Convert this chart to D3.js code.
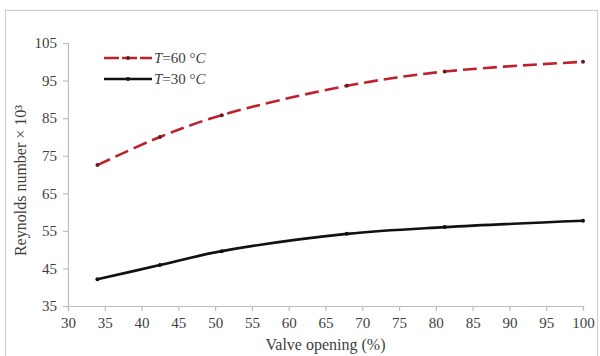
<!DOCTYPE html>
<html>
<head>
<meta charset="utf-8">
<script src="https://cdn.jsdelivr.net/npm/d3@7"></script>
<style>
  html, body { margin: 0; padding: 0; background: #fff; }
  svg { display: block; }
  text { font-family: "Liberation Serif", "DejaVu Serif", serif; fill: #404040; }
</style>
</head>
<body>
<svg id="chart" width="600" height="356"></svg>
<script>
// Valve opening (%) at each measured point
const valveOpening = [34, 42.5, 50.9, 67.9, 81.2, 100];
// Reynolds number (×10³) for each water temperature
const re60 = [72.5, 80, 85.8, 93.6, 97.4, 100];
const re30 = [42.1, 45.9, 49.6, 54.2, 56, 57.7];
const xTicks = [30, 35, 40, 45, 50, 55, 60, 65, 70, 75, 80, 85, 90, 95, 100];
const yTicks = [35, 45, 55, 65, 75, 85, 95, 105];

const svg = d3.select("#chart");
const plot = { left: 68, right: 583, top: 43, bottom: 306 };

// outer chart frame
svg.append("rect")
  .attr("x", 5.5).attr("y", 10.5).attr("width", 592).attr("height", 350)
  .attr("fill", "#fff").attr("stroke", "#d0d0d0").attr("stroke-width", 1.2);

const x = d3.scaleLinear().domain([30, 100]).range([plot.left, plot.right]);
const y = d3.scaleLinear().domain([35, 105]).range([plot.bottom, plot.top]);

// x axis
const xAxis = svg.append("g")
  .attr("transform", `translate(0,${plot.bottom})`)
  .call(d3.axisBottom(x).tickValues(xTicks).tickSize(5).tickPadding(6));
// y axis
const yAxis = svg.append("g")
  .attr("transform", `translate(${plot.left},0)`)
  .call(d3.axisLeft(y).tickValues(yTicks).tickSize(5).tickPadding(6));

[xAxis, yAxis].forEach(g => {
  g.select(".domain").attr("stroke", "#bdbdbd").attr("stroke-width", 1.2);
  g.selectAll(".tick line").attr("stroke", "#bdbdbd").attr("stroke-width", 1.2);
  g.selectAll(".tick text")
    .attr("font-family", "Liberation Serif, DejaVu Serif, serif")
    .attr("font-size", 15).attr("fill", "#3a3a3a");
});

// axis titles
svg.append("text")
  .attr("x", (plot.left + plot.right) / 2).attr("y", 350)
  .attr("text-anchor", "middle").attr("font-size", 16).attr("fill", "#333")
  .text("Valve opening (%)");

svg.append("text")
  .attr("transform", `translate(26,${(plot.top + plot.bottom) / 2 + 6}) rotate(-90)`)
  .attr("text-anchor", "middle").attr("font-size", 16).attr("fill", "#333")
  .text("Reynolds number × 10³");

const line = d3.line()
  .x(d => x(d[0])).y(d => y(d[1]))
  .curve(d3.curveCatmullRom.alpha(0.5));

const series = [
  { name: "60", values: re60, color: "#c0202c", dash: "14,6", marker: "#6a1a20" },
  { name: "30", values: re30, color: "#111111", dash: null, marker: "#111111" }
];

series.forEach(s => {
  const pts = valveOpening.map((v, i) => [v, s.values[i]]);
  svg.append("path")
    .datum(pts)
    .attr("d", line)
    .attr("fill", "none")
    .attr("stroke", s.color)
    .attr("stroke-width", 2.6)
    .attr("stroke-dasharray", s.dash);
  svg.append("g").selectAll("circle")
    .data(pts).join("circle")
    .attr("cx", d => x(d[0])).attr("cy", d => y(d[1]))
    .attr("r", 2).attr("fill", s.marker);
});

// legend
const legend = svg.append("g");
series.forEach((s, i) => {
  const ly = 58 + i * 21;
  legend.append("line")
    .attr("x1", 104).attr("x2", 152).attr("y1", ly).attr("y2", ly)
    .attr("stroke", s.color).attr("stroke-width", 2.6)
    .attr("stroke-dasharray", s.dash ? "15,3" : null);
  legend.append("circle").attr("cx", 128).attr("cy", ly).attr("r", 2).attr("fill", s.marker);
  const t = legend.append("text")
    .attr("x", 154).attr("y", ly + 5).attr("font-size", 15)
    .attr("font-family", "Liberation Sans, Arial, sans-serif").attr("fill", "#333");
  t.append("tspan").attr("font-style", "italic").text("T");
  t.append("tspan").text(`=${s.name} °`);
  t.append("tspan").attr("font-style", "italic").text("C");
});
</script>
</body>
</html>
